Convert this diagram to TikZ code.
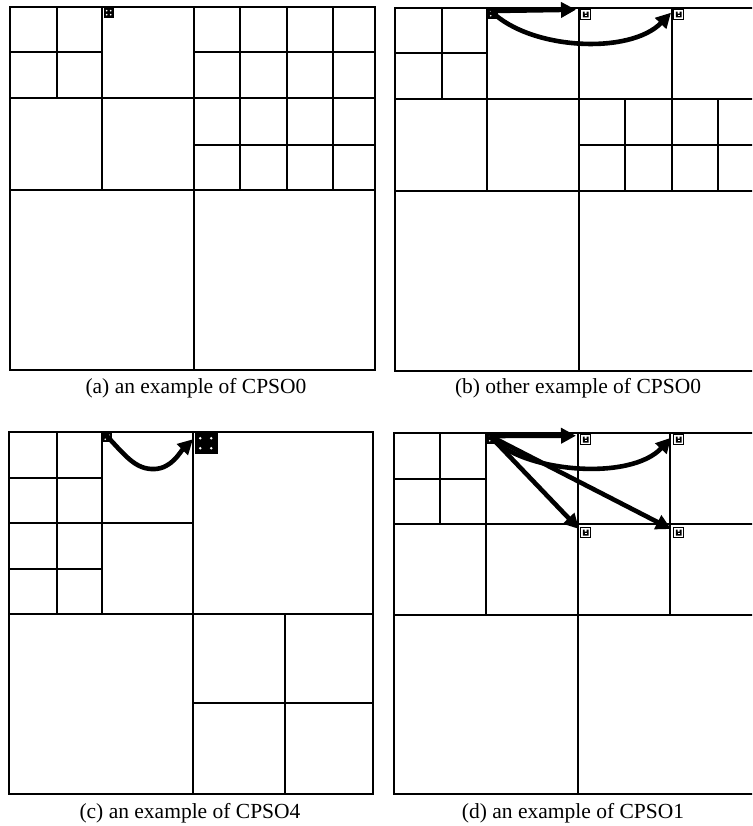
\documentclass[tikz,border=0pt]{standalone}
\usepackage{fontspec}
\setmainfont{Liberation Serif}
\usetikzlibrary{arrows.meta}
\tikzset{
  grid/.style={line width=1.9pt, line cap=rect},
  mkstart/.style={fill=black, draw=black, minimum size=9pt, inner sep=0pt,
    path picture={\fill[white] ([shift={(-2pt,-2pt)}]path picture bounding box.center) circle (0.9pt)
       ([shift={(2pt,-2pt)}]path picture bounding box.center) circle (0.9pt)
       ([shift={(-2pt,2pt)}]path picture bounding box.center) circle (0.9pt)
       ([shift={(2pt,2pt)}]path picture bounding box.center) circle (0.9pt);}},
  mktarget/.style={fill=white, draw=black, line width=1.4pt, minimum size=10pt, inner sep=0pt,
    path picture={\fill[black] ([shift={(-2.8pt,-2.8pt)}]path picture bounding box.center) rectangle ([shift={(2.8pt,1pt)}]path picture bounding box.center)
       ([shift={(-2.8pt,1pt)}]path picture bounding box.center) rectangle ([shift={(-1pt,3pt)}]path picture bounding box.center)
       ([shift={(1pt,1pt)}]path picture bounding box.center) rectangle ([shift={(2.8pt,3pt)}]path picture bounding box.center);
       \fill[white] ([shift={(-1pt,-1.2pt)}]path picture bounding box.center) rectangle ([shift={(1pt,0pt)}]path picture bounding box.center);}},
  mkcluster/.style={fill=black, draw=black, minimum width=22pt, minimum height=20pt, inner sep=0pt,
    path picture={\fill[white]
       ([shift={(-6pt,-5pt)}]path picture bounding box.center) circle (1.4pt)
       ([shift={(5pt,-5pt)}]path picture bounding box.center) circle (1.4pt)
       ([shift={(-6pt,5pt)}]path picture bounding box.center) circle (1.4pt)
       ([shift={(5pt,5pt)}]path picture bounding box.center) circle (1.4pt);}},
  arr/.style={line width=4.6pt, -{Triangle[length=15pt,width=15pt]}},
  captext/.style={font=\fontsize{21.5}{24}\selectfont, inner sep=0pt},
}
\begin{document}
\begin{tikzpicture}[x=1pt,y=-1pt]
\useasboundingbox (0,0) rectangle (752,826);
\clip (0,0) rectangle (752,826);

% ---------- panel (a) ----------
\draw[grid] (10,7) rectangle (375,370);
\draw[grid] (194,7) -- (194,370) (10,190) -- (375,190);
\draw[grid] (102,7) -- (102,190) (10,98) -- (194,98);
\draw[grid] (57,7) -- (57,98) (10,52) -- (102,52);
\draw[grid] (240,7) -- (240,190) (287,7) -- (287,190) (333,7) -- (333,190);
\draw[grid] (194,52) -- (375,52) (194,98) -- (375,98) (194,145) -- (375,145);
\node[mkstart, anchor=north west] (a0) at (104,8) {};
\node[captext] (capa) at (196,388) {(a) an example of CPSO0};

% ---------- panel (b) ----------
\draw[grid] (395,8) rectangle (763,371);
\draw[grid] (579,8) -- (579,371) (395,191) -- (763,191);
\draw[grid] (487,8) -- (487,191) (395,99) -- (579,99);
\draw[grid] (442,8) -- (442,99) (395,53) -- (487,53);
\draw[grid] (672,8) -- (672,191) (579,99) -- (763,99);
\draw[grid] (625,99) -- (625,191) (718,99) -- (718,191) (579,145) -- (763,145);
\node[mkstart, anchor=north west] (b0) at (488,9) {};
\node[mktarget, anchor=north west] (b1) at (580,9) {};
\node[mktarget, anchor=north west] (b2) at (673,9) {};
\coordinate (bs) at (491,11);
\draw[arr] (bs) -- ([shift={(-4pt,5pt)}]b1.west);
\draw[arr] (bs) .. controls (530,50) and (630,55) .. ([shift={(-2pt,2pt)}]b2.west);
\node[captext] (capb) at (578,388) {(b) other example of CPSO0};

% ---------- panel (c) ----------
\draw[grid] (9,432) rectangle (373,794);
\draw[grid] (193,432) -- (193,794) (9,614) -- (373,614);
\draw[grid] (102,432) -- (102,614) (9,523) -- (193,523);
\draw[grid] (57,432) -- (57,614) (9,478) -- (102,478) (9,569) -- (102,569);
\draw[grid] (285,614) -- (285,794) (193,703) -- (373,703);
\node[mkstart, anchor=north west, minimum size=8pt] (c0) at (103,433) {};
\node[mkcluster, anchor=north west] (c1) at (195,433) {};
\coordinate (cs) at (104,433);
\coordinate (cm) at (155,469);
\draw[arr] (cs) .. controls (125,455) and (135,470) .. (cm)
  .. controls (172,468) and (180,452) .. ([shift={(-2pt,4pt)}]c1.west);
\node[captext] (capc) at (190,813) {(c) an example of CPSO4};

% ---------- panel (d) ----------
\draw[grid] (394,433) rectangle (762,794);
\draw[grid] (578,433) -- (578,794) (394,615) -- (762,615);
\draw[grid] (486,433) -- (486,615) (394,524) -- (578,524);
\draw[grid] (440,433) -- (440,524) (394,479) -- (486,479);
\draw[grid] (670,433) -- (670,615) (578,524) -- (762,524);
\node[mkstart, anchor=north west] (d0) at (487,434) {};
\node[mktarget, anchor=north west] (d1) at (580,434) {};
\node[mktarget, anchor=north west] (d2) at (673,434) {};
\node[mktarget, anchor=north west] (d3) at (580,527) {};
\node[mktarget, anchor=north west] (d4) at (673,527) {};
\coordinate (ds) at (490,436);
\draw[arr] (ds) -- ([shift={(-4pt,4pt)}]d1.west);
\draw[arr] (ds) .. controls (520,472) and (630,482) .. ([shift={(-2pt,2pt)}]d2.west);
\draw[arr] (ds) -- ([shift={(-1pt,-2pt)}]d3.north west);
\draw[arr] (ds) -- ([shift={(-2pt,-2pt)}]d4.north west);
\node[captext] (capd) at (573,813) {(d) an example of CPSO1};
\end{tikzpicture}
\end{document}
